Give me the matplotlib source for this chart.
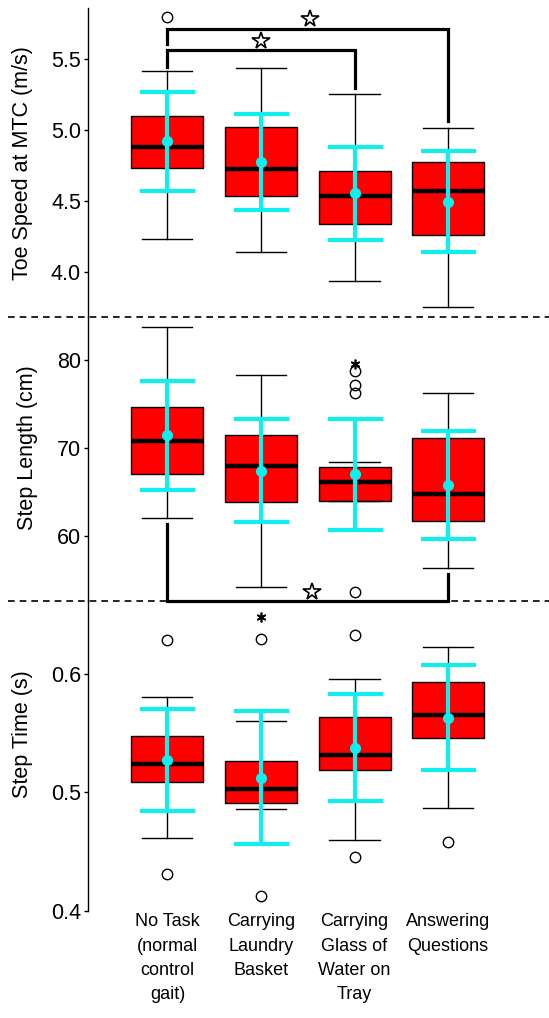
import matplotlib
matplotlib.use("Agg")
import matplotlib.pyplot as plt
from matplotlib.lines import Line2D

plt.rcParams['font.family'] = ['Liberation Sans', 'DejaVu Sans']

conditions = ["No Task\n(normal\ncontrol\ngait)", "Carrying\nLaundry\nBasket",
              "Carrying\nGlass of\nWater on\nTray", "Answering\nQuestions"]
positions = [1, 2, 3, 4]

# toe speed at MTC (m/s)
speed_whislo = [4.233, 4.139, 3.935, 3.751]
speed_q1 = [4.730, 4.537, 4.335, 4.257]
speed_med = [4.878, 4.725, 4.537, 4.572]
speed_q3 = [5.096, 5.019, 4.713, 4.772]
speed_whishi = [5.419, 5.435, 5.256, 5.012]
speed_fliers = [[5.795], [], [], []]
speed_extreme = [[], [], [], []]
speed_mean = [4.920, 4.776, 4.552, 4.494]
speed_sd = [0.350, 0.340, 0.330, 0.358]

# step length (cm)
length_whislo = [62.08, 54.23, 64.00, 56.42]
length_q1 = [66.98, 63.85, 64.00, 61.70]
length_med = [70.79, 67.96, 66.08, 64.72]
length_q3 = [74.60, 71.47, 67.81, 71.09]
length_whishi = [83.74, 78.30, 68.34, 76.26]
length_fliers = [[], [], [78.68, 77.13, 76.26, 53.70], []]
length_extreme = [[], [], [79.55], []]
length_mean = [71.40, 67.40, 66.98, 65.77]
length_sd = [6.22, 5.85, 6.34, 6.15]

# step time (s)
time_whislo = [0.4615, 0.4860, 0.4596, 0.4865]
time_q1 = [0.5087, 0.4907, 0.5191, 0.5455]
time_med = [0.5236, 0.5031, 0.5315, 0.5654]
time_q3 = [0.5475, 0.5261, 0.5635, 0.5930]
time_whishi = [0.5806, 0.5604, 0.5958, 0.6230]
time_fliers = [[0.6284, 0.4312], [0.6292, 0.4121], [0.6326, 0.4452], [0.4584]]
time_extreme = [[], [0.6480], [], []]
time_mean = [0.5274, 0.5122, 0.5378, 0.5631]
time_sd = [0.0428, 0.0563, 0.0448, 0.0443]

# significance brackets: (group a, group b, bar level, leg end a, leg end b, star x, star y)
speed_sig = [(1, 4, 5.712, 5.607, 5.066, 2.52, 5.780),
             (1, 3, 5.562, 5.447, 5.294, 2.00, 5.628)]
length_sig = [(1, 4, 52.64, 61.36, 55.66, 2.55, 53.70)]
time_sig = []

CYAN = '#10eeee'

panels = [
    dict(whislo=speed_whislo, q1=speed_q1, med=speed_med, q3=speed_q3, whishi=speed_whishi,
         fliers=speed_fliers, extreme=speed_extreme, mean=speed_mean, sd=speed_sd, sig=speed_sig,
         ylim=(3.681, 5.858), yticks=[4.0, 4.5, 5.0, 5.5], fmt='{:.1f}',
         ylabel='Toe Speed at MTC (m/s)', lab=(-0.119, 0.5)),
    dict(whislo=length_whislo, q1=length_q1, med=length_med, q3=length_q3, whishi=length_whishi,
         fliers=length_fliers, extreme=length_extreme, mean=length_mean, sd=length_sd, sig=length_sig,
         ylim=(52.64, 84.83), yticks=[60, 70, 80], fmt='{:.0f}',
         ylabel='Step Length (cm)', lab=(-0.108, 0.539)),
    dict(whislo=time_whislo, q1=time_q1, med=time_med, q3=time_q3, whishi=time_whishi,
         fliers=time_fliers, extreme=time_extreme, mean=time_mean, sd=time_sd, sig=time_sig,
         ylim=(0.4, 0.6615), yticks=[0.4, 0.5, 0.6], fmt='{:.1f}',
         ylabel='Step Time (s)', lab=(-0.119, 0.571)),
]

W, H = 549, 1018
fig = plt.figure(figsize=(W / 100, H / 100), dpi=100)

# pixel rows of the panel borders
borders = [8.3, 317, 601, 910.7]
left, right = 88 / W, 1.0

for i, p in enumerate(panels):
    b = 1 - borders[i + 1] / H
    t = 1 - borders[i] / H
    ax = fig.add_axes([left, b, right - left, t - b])
    ax.set_facecolor('none')
    ax.set_xlim(0.15, 5.08)
    ax.set_ylim(*p['ylim'])

    stats = []
    for k in range(4):
        stats.append(dict(med=p['med'][k], q1=p['q1'][k], q3=p['q3'][k],
                          whislo=p['whislo'][k], whishi=p['whishi'][k],
                          fliers=p['fliers'][k]))
    arts = ax.bxp(stats, positions=positions, widths=0.77, capwidths=0.535,
                  patch_artist=True, showfliers=True,
                  boxprops=dict(facecolor='#ff0000', edgecolor='black', linewidth=1),
                  medianprops=dict(color='black', linewidth=3.2, solid_capstyle='butt'),
                  whiskerprops=dict(color='black', linewidth=1),
                  capprops=dict(color='black', linewidth=1),
                  flierprops=dict(marker='o', markerfacecolor='none', markeredgecolor='black',
                                  markersize=7.5, markeredgewidth=1))
    for group in arts.values():
        for a in group:
            a.set_clip_on(False)

    for k in range(4):
        if p['extreme'][k]:
            ax.plot([positions[k]] * len(p['extreme'][k]), p['extreme'][k], linestyle='none',
                    marker=(6, 2, 0), color='black', markersize=7, markeredgewidth=1.2,
                    clip_on=False)

    eb = ax.errorbar(positions, p['mean'], yerr=p['sd'], fmt='o', color=CYAN,
                     markersize=7, elinewidth=3, capsize=19.8, capthick=3, zorder=5)
    for a in eb.lines[1] + eb.lines[2]:
        a.set_clip_on(False)

    for ga, gb, bar, enda, endb, sx, sy in p['sig']:
        ax.plot([ga, ga, gb, gb], [enda, bar, bar, endb], color='black', linewidth=2.3,
                solid_joinstyle='miter', clip_on=False, zorder=6)
        ax.plot([sx], [sy], marker='*', markersize=13, markerfacecolor='white',
                markeredgecolor='black', markeredgewidth=1.2, clip_on=False, zorder=7)

    for s in ['top', 'right', 'bottom']:
        ax.spines[s].set_visible(False)
    ax.spines['left'].set_linewidth(1)
    ax.set_yticks(p['yticks'])
    ax.set_yticklabels([p['fmt'].format(v) for v in p['yticks']])
    ax.tick_params(axis='y', length=3, width=1, pad=2, labelsize=15.5)
    ax.set_ylabel(p['ylabel'], fontsize=15.5)
    ax.yaxis.set_label_coords(*p['lab'])

    if i == 2:
        ax.set_xticks(positions)
        ax.set_xticklabels(conditions, fontsize=13, linespacing=1.55)
        ax.tick_params(axis='x', length=0, pad=2)
    else:
        ax.set_xticks([])

# dashed separators between panels
for yb in borders[1:3]:
    fig.add_artist(Line2D([8 / W, 1.0], [1 - yb / H, 1 - yb / H], transform=fig.transFigure,
                          color='black', linewidth=1.2, linestyle=(0, (4, 3))))

fig.savefig('out.png', dpi=100)
